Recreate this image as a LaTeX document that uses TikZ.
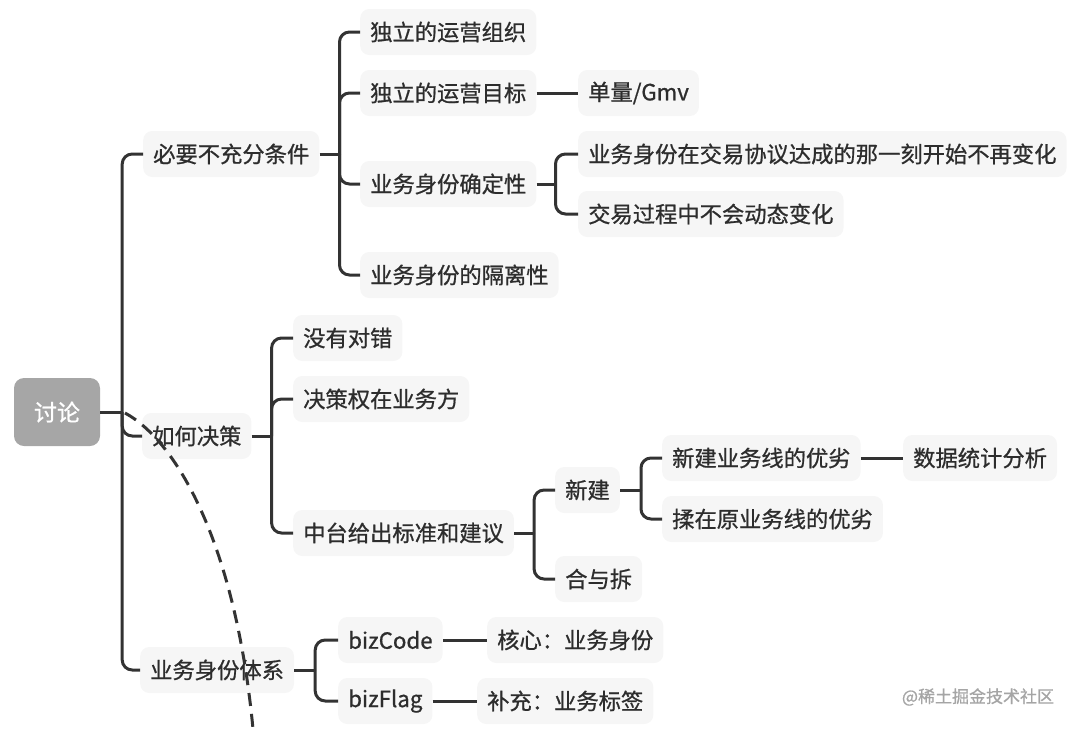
\documentclass[tikz,border=0pt]{standalone}
\usepackage{fontspec}
\setmainfont{Noto Sans CJK SC}[FakeBold=0.8]
\definecolor{linec}{RGB}{51,51,51}
\definecolor{boxc}{RGB}{246,246,246}
\definecolor{rootc}{RGB}{166,166,166}
\definecolor{txtc}{RGB}{45,45,45}
\definecolor{wmc}{RGB}{165,165,165}
\tikzset{
  topic/.style={fill=boxc, rounded corners=9pt, text=txtc, font=\fontsize{22.3}{26}\selectfont,
    minimum height=46pt, inner xsep=10pt, inner ysep=0pt, anchor=west},
  rootbox/.style={fill=rootc, rounded corners=10pt, text=white, font=\fontsize{23}{26}\selectfont,
    minimum width=86pt, minimum height=68pt, inner sep=0pt},
  conn/.style={draw=linec, line width=3pt, rounded corners=10pt},
  stub/.style={draw=linec, line width=3pt},
  dashcurve/.style={draw=linec, line width=3pt, dash pattern=on 13pt off 8pt},
  wm/.style={text=wmc, font=\fontsize{17}{20}\selectfont}
}
\begin{document}
\begin{tikzpicture}[x=1pt,y=-1pt]
\useasboundingbox (0,0) rectangle (1080,729);
% nodes
\node[rootbox] (root) at (57,412) {讨论};
\node[topic] (A) at (143,154) {必要不充分条件};
\node[topic] (A1) at (360,32) {独立的运营组织};
\node[topic] (A2) at (360,93) {独立的运营目标};
\node[topic] (A2a) at (578,93) {单量/Gmv};
\node[topic] (A3) at (360,184) {业务身份确定性};
\node[topic] (A3a) at (578,154) {业务身份在交易协议达成的那一刻开始不再变化};
\node[topic] (A3b) at (578,214) {交易过程中不会动态变化};
\node[topic] (A4) at (360,275) {业务身份的隔离性};
\node[topic] (B) at (142,436) {如何决策};
\node[topic] (B1) at (293,338) {没有对错};
\node[topic] (B2) at (293,399) {决策权在业务方};
\node[topic] (B3) at (293,533) {中台给出标准和建议};
\node[topic] (B3a) at (555,490) {新建};
\node[topic] (B3a1) at (662,458) {新建业务线的优劣};
\node[topic] (B3a1a) at (903,458) {数据统计分析};
\node[topic] (B3a2) at (662,519) {揉在原业务线的优劣};
\node[topic] (B3b) at (555,579) {合与拆};
\node[topic] (C) at (140,670) {业务身份体系};
\node[topic] (C1) at (338,640) {bizCode};
\node[topic] (C1a) at (487,640) {核心：业务身份};
\node[topic] (C2) at (338,701) {bizFlag};
\node[topic] (C2a) at (477,701) {补充：业务标签};
\node[wm] (wm) at (978,697) {@稀土掘金技术社区};
% junction points
\coordinate (jr) at ([xshift=22pt]root.east);
\coordinate (jA) at ([xshift=20pt]A.east);
\coordinate (jA3) at ([xshift=19pt]A3.east);
\coordinate (jB) at ([xshift=20pt]B.east);
\coordinate (jB3) at ([xshift=20pt]B3.east);
\coordinate (jB3a) at ([xshift=21pt]B3a.east);
\coordinate (jC) at ([xshift=21pt]C.east);
% connectors
\draw[stub] (root.east) -- (jr);
\foreach \c in {A,B,C} \draw[conn] (jr) |- (\c.west);
\draw[stub] (A.east) -- (jA);
\foreach \c in {A1,A2,A3,A4} \draw[conn] (jA) |- (\c.west);
\draw[stub] (A2.east) -- (A2a.west);
\draw[stub] (A3.east) -- (jA3);
\foreach \c in {A3a,A3b} \draw[conn] (jA3) |- (\c.west);
\draw[stub] (B.east) -- (jB);
\foreach \c in {B1,B2,B3} \draw[conn] (jB) |- (\c.west);
\draw[stub] (B3.east) -- (jB3);
\foreach \c in {B3a,B3b} \draw[conn] (jB3) |- (\c.west);
\draw[stub] (B3a.east) -- (jB3a);
\foreach \c in {B3a1,B3a2} \draw[conn] (jB3a) |- (\c.west);
\draw[stub] (B3a1.east) -- (B3a1a.west);
\draw[stub] (C.east) -- (jC);
\foreach \c in {C1,C2} \draw[conn] (jC) |- (\c.west);
\draw[stub] (C1.east) -- (C1a.west);
\draw[stub] (C2.east) -- (C2a.west);
% dashed stroke
\coordinate (d0) at (125,413);
\coordinate (d1) at (253,729);
\draw[dashcurve] (d0) .. controls (175,440) and (235,540) .. (d1);
\end{tikzpicture}
\end{document}
